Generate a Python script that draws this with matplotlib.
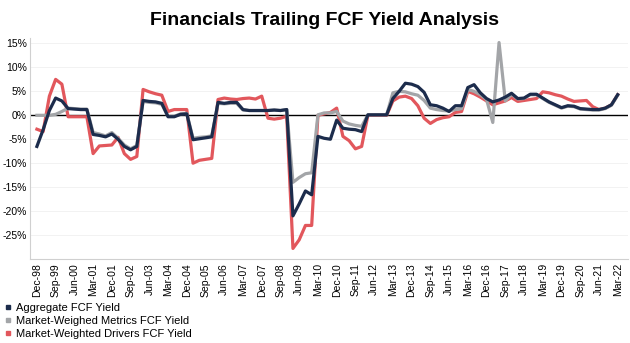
import numpy as np
import matplotlib
matplotlib.use('Agg')
import matplotlib.pyplot as plt
from matplotlib.lines import Line2D

plt.rcParams['font.family'] = ['Liberation Sans', 'DejaVu Sans']

# quarterly readings, Dec-98 .. Mar-22 (values in %)
aggregate = [
    -6.5, -3.0, 1.0, 3.6, 3.0, 1.4, 1.3, 1.2, 1.2, -4.0,
    -4.2, -4.5, -3.9, -5.0, -6.5, -7.2, -6.5, 3.1, 2.9, 2.8,
    2.5, -0.3, -0.3, 0.2, 0.3, -5.1, -4.9, -4.7, -4.5, 2.7,
    2.5, 2.7, 2.7, 1.2, 1.0, 1.0, 1.0, 1.0, 1.1, 1.0,
    1.2, -21.0, -18.5, -15.8, -16.6, -4.4, -4.8, -5.0, -1.0, -2.7,
    -2.9, -3.0, -3.4, 0.1, 0.1, 0.1, 0.1, 3.5, 5.0, 6.7,
    6.5, 6.0, 4.8, 2.2, 2.0, 1.5, 0.8, 2.0, 2.0, 5.8,
    6.4, 4.7, 3.5, 2.8, 3.2, 3.8, 4.6, 3.5, 3.6, 4.4,
    4.4, 3.6, 2.8, 2.2, 1.6, 2.0, 1.9, 1.4, 1.3, 1.2,
    1.2, 1.5, 2.2, 4.3]
metrics = [
    0.0, 0.0, 0.0, 0.2, 0.8, 1.5, 1.4, 1.3, 1.3, -3.6,
    -3.9, -4.3, -3.6, -4.8, -6.2, -7.0, -6.3, 2.9, 2.7, 2.6,
    2.3, -0.2, -0.2, 0.3, 0.4, -4.8, -4.6, -4.5, -4.3, 2.5,
    2.4, 2.5, 2.5, 1.1, 1.0, 1.0, 1.0, 1.0, 1.1, 1.0,
    1.2, -14.0, -13.0, -12.2, -12.0, 0.1, 0.5, 0.5, 0.8, -1.2,
    -1.8, -2.1, -2.3, 0.1, 0.1, 0.1, 0.1, 4.7, 5.0, 4.9,
    4.5, 4.2, 3.1, 1.5, 1.2, 1.0, 0.9, 1.2, 1.4, 5.4,
    5.0, 4.3, 3.3, -1.5, 15.2, 3.0, 4.4, 3.4, 3.5, 4.3,
    4.3, 3.5, 2.7, 2.1, 1.5, 1.9, 1.8, 1.3, 1.2, 1.1,
    1.1, 1.4, 2.1, 4.2]
drivers = [
    -2.9, -3.4, 4.0, 7.5, 6.5, -0.3, -0.3, -0.3, -0.3, -8.0,
    -6.4, -6.3, -6.2, -4.6, -8.0, -9.2, -8.6, 5.4, 4.9, 4.5,
    4.2, 0.8, 1.2, 1.2, 1.2, -10.0, -9.4, -9.2, -9.0, 3.3,
    3.6, 3.4, 3.3, 3.5, 3.6, 3.4, 4.0, -0.6, -0.8, -0.6,
    -0.2, -27.8, -26.0, -23.0, -23.0, 0.0, 0.3, 0.6, 1.5, -4.4,
    -5.3, -7.0, -6.5, 0.0, 0.0, 0.0, 0.0, 3.0, 3.8, 4.0,
    3.5, 2.0, -0.6, -1.7, -0.9, -0.5, -0.3, 0.6, 0.8, 5.0,
    4.5, 3.8, 3.0, 2.2, 2.6, 3.0, 3.7, 2.9, 3.1, 3.3,
    3.5, 4.9, 4.7, 4.3, 4.0, 3.4, 2.9, 3.0, 3.1, 1.8,
    1.2, 1.5, 2.2, 4.3]

tick_labels = ['Dec-98', 'Sep-99', 'Jun-00', 'Mar-01', 'Dec-01', 'Sep-02',
               'Jun-03', 'Mar-04', 'Dec-04', 'Sep-05', 'Jun-06', 'Mar-07',
               'Dec-07', 'Sep-08', 'Jun-09', 'Mar-10', 'Dec-10', 'Sep-11',
               'Jun-12', 'Mar-13', 'Dec-13', 'Sep-14', 'Jun-15', 'Mar-16',
               'Dec-16', 'Sep-17', 'Jun-18', 'Mar-19', 'Dec-19', 'Sep-20',
               'Jun-21', 'Mar-22']
labels = ['Aggregate FCF Yield', 'Market-Weighed Metrics FCF Yield',
          'Market-Weighted Drivers FCF Yield']
colors = ['#1c2c4c', '#a3a5a8', '#e2575c']

# months since Dec-98
x = np.arange(len(aggregate)) * 3

fig = plt.figure(figsize=(6.3, 3.43), dpi=100)
ax = fig.add_axes([0.047, 0.245, 0.95, 0.645])

for v in range(-30, 20, 5):
    ax.axhline(v, color='#f0f0f0', lw=0.6, zorder=0)
ax.axhline(0, color='black', lw=1.0, zorder=1)

ax.plot(x, drivers, color=colors[2], lw=2.3, zorder=2)
ax.plot(x, metrics, color=colors[1], lw=2.3, zorder=3)
ax.plot(x, aggregate, color=colors[0], lw=2.3, zorder=4)

ax.set_ylim(-30, 16.2)
ax.set_xlim(-3.5, 284)
ax.set_yticks(range(-25, 20, 5))
ax.set_yticklabels(['%d%%' % v for v in range(-25, 20, 5)], fontsize=7.5)
ax.set_xticks(np.arange(len(tick_labels)) * 9)
ax.set_xticklabels(tick_labels, rotation=90, fontsize=7.5)
ax.tick_params(axis='y', length=0, pad=2)
ax.tick_params(axis='x', length=0, pad=3)
for s in ['top', 'right']:
    ax.spines[s].set_visible(False)
for s in ['left', 'bottom']:
    ax.spines[s].set_color('#d0d0d0')
    ax.spines[s].set_linewidth(0.8)

fig.text(0.515, 0.94, 'Financials Trailing FCF Yield Analysis',
         ha='center', va='center', fontsize=14, fontweight='bold')

handles = [Line2D([], [], marker='s', ls='None', color=c, markersize=3)
           for c in colors]
fig.legend(handles, labels, loc='lower left', bbox_to_anchor=(-0.005, -0.01),
           frameon=False, fontsize=8, handlelength=0.6, handletextpad=0.4,
           labelspacing=0.25, borderpad=0.2)

fig.savefig('out.png', dpi=100)
